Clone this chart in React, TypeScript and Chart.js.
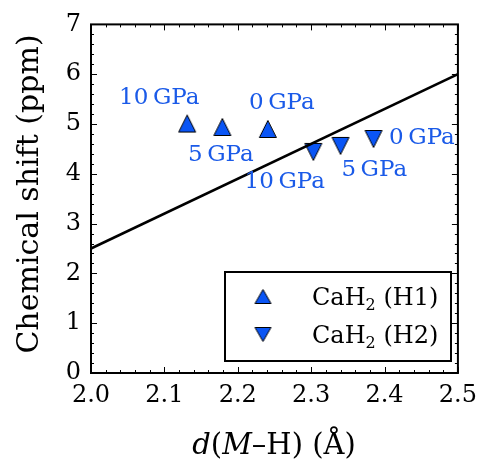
import React, { useEffect, useRef } from "react";
import { Chart, registerables } from "chart.js";

Chart.register(...registerables);

// ---- data ----
const h1Distance = [2.131, 2.179, 2.241];
const h1Shift = [5.01, 4.94, 4.9];
const h2Distance = [2.303, 2.34, 2.385];
const h2Shift = [4.44, 4.56, 4.7];
const fitX = [2.0, 2.5];
const fitY = [2.5, 6.0];
const labelText = ["10\u2009GPa", "0\u2009GPa", "5\u2009GPa", "10\u2009GPa", "5\u2009GPa", "0\u2009GPa"];
const labelX = [2.093, 2.26, 2.177, 2.264, 2.386, 2.451];
const labelY = [5.52, 5.43, 4.37, 3.84, 4.07, 4.71];
const xTicks = [2.0, 2.1, 2.2, 2.3, 2.4, 2.5];
const yTicks = [0, 1, 2, 3, 4, 5, 6, 7];
const legendLabels = ["H1", "H2"];

const BLUE = "#0a55f5";
const TEXT_BLUE = "#1a5ae8";
const FONT = "DejaVu Serif";

function makeTriangle(down: boolean, w = 17, h = 17) {
  const c = document.createElement("canvas");
  c.width = w + 3;
  c.height = h + 3;
  const ctx = c.getContext("2d")!;
  const x0 = 1.5, y0 = 1.5;
  ctx.beginPath();
  if (!down) {
    ctx.moveTo(x0 + w / 2, y0);
    ctx.lineTo(x0 + w, y0 + h);
    ctx.lineTo(x0, y0 + h);
  } else {
    ctx.moveTo(x0, y0);
    ctx.lineTo(x0 + w, y0);
    ctx.lineTo(x0 + w / 2, y0 + h);
  }
  ctx.closePath();
  ctx.fillStyle = BLUE;
  ctx.fill();
  ctx.lineWidth = 1;
  ctx.strokeStyle = "#000";
  ctx.stroke();
  return c;
}

export default function App() {
  const ref = useRef<HTMLCanvasElement | null>(null);

  useEffect(() => {
    document.body.style.margin = "0";
    const up = makeTriangle(false);
    const down = makeTriangle(true);
    const upL = makeTriangle(false, 16, 14);
    const downL = makeTriangle(true, 16, 14);

    const decor = {
      id: "decor",
      afterDatasetsDraw(chart: any) {
        const ctx = chart.ctx as CanvasRenderingContext2D;
        const xs = chart.scales.x;
        const ys = chart.scales.y;
        const { left, right, top, bottom } = chart.chartArea;
        ctx.save();
        // annotations
        ctx.fillStyle = TEXT_BLUE;
        ctx.font = `23px "${FONT}"`;
        ctx.textAlign = "center";
        ctx.textBaseline = "middle";
        labelText.forEach((t, i) => {
          ctx.fillText(t, xs.getPixelForValue(labelX[i]), ys.getPixelForValue(labelY[i]));
        });
        // ticks
        ctx.strokeStyle = "#000";
        ctx.lineWidth = 1;
        ctx.beginPath();
        for (let v = 2.0; v <= 2.5001; v += 0.02) {
          const isMajor = Math.abs(Math.round(v * 10) - v * 10) < 1e-6;
          const len = isMajor ? 6 : 3;
          const px = Math.round(xs.getPixelForValue(v)) + 0.5;
          ctx.moveTo(px, bottom);
          ctx.lineTo(px, bottom - len);
          ctx.moveTo(px, top);
          ctx.lineTo(px, top + len);
        }
        for (let v = 0; v <= 7.0001; v += 0.2) {
          const isMajor = Math.abs(Math.round(v) - v) < 1e-6;
          const len = isMajor ? 6 : 3;
          const py = Math.round(ys.getPixelForValue(v)) + 0.5;
          ctx.moveTo(left, py);
          ctx.lineTo(left + len, py);
          ctx.moveTo(right, py);
          ctx.lineTo(right - len, py);
        }
        ctx.stroke();
        // frame
        ctx.lineWidth = 2;
        ctx.strokeRect(left, top, right - left, bottom - top);

        // legend
        const lx = 225, ly = 272, lw = 226, lh = 89;
        ctx.fillStyle = "#fff";
        ctx.fillRect(lx, ly, lw, lh);
        ctx.lineWidth = 2;
        ctx.strokeStyle = "#000";
        ctx.strokeRect(lx, ly, lw, lh);
        const rows = [296.5, 334.5];
        const icons = [upL, downL];
        rows.forEach((ry, i) => {
          const ic = icons[i];
          ctx.drawImage(ic, 263 - ic.width / 2, ry - ic.height / 2);
          ctx.fillStyle = "#000";
          ctx.textAlign = "left";
          ctx.textBaseline = "alphabetic";
          const base = ry + 8;
          let x = 312;
          ctx.font = `24px "${FONT}"`;
          ctx.fillText("CaH", x, base);
          x += ctx.measureText("CaH").width;
          ctx.font = `16px "${FONT}"`;
          ctx.fillText("2", x, base + 5);
          x += ctx.measureText("2").width;
          ctx.font = `24px "${FONT}"`;
          ctx.fillText(` (${legendLabels[i]})`, x, base);
        });

        // x title
        const segs: [string, boolean][] = [["d", true], ["(", false], ["M", true], ["\u2013H) (\u00c5)", false]];
        const fontFor = (it: boolean) => `${it ? "italic " : ""}29px "${FONT}"`;
        let total = 0;
        segs.forEach(([t, it]) => {
          ctx.font = fontFor(it);
          total += ctx.measureText(t).width;
        });
        let sx = 274 - total / 2;
        ctx.fillStyle = "#000";
        segs.forEach(([t, it]) => {
          ctx.font = fontFor(it);
          ctx.fillText(t, sx, 454);
          sx += ctx.measureText(t).width;
        });

        // y title
        ctx.save();
        ctx.translate(30, 194);
        ctx.rotate(-Math.PI / 2);
        ctx.font = `30px "${FONT}"`;
        ctx.textAlign = "center";
        ctx.textBaseline = "middle";
        ctx.fillText("Chemical shift (ppm)", 0, 0);
        ctx.restore();

        ctx.restore();
      },
    };

    const chart = new Chart(ref.current!, {
      type: "scatter",
      data: {
        datasets: [
          {
            type: "line",
            data: fitX.map((x, i) => ({ x, y: fitY[i] })),
            borderColor: "#000",
            borderWidth: 2.5,
            pointRadius: 0,
            fill: false,
          } as any,
          {
            data: h1Distance.map((x, i) => ({ x, y: h1Shift[i] })),
            pointStyle: up,
            pointRadius: 10,
          },
          {
            data: h2Distance.map((x, i) => ({ x, y: h2Shift[i] })),
            pointStyle: down,
            pointRadius: 10,
          },
        ],
      },
      options: {
        responsive: false,
        animation: false,
        events: [],
        layout: { padding: { left: 0, right: 22, top: 20, bottom: 0 } },
        plugins: { legend: { display: false }, tooltip: { enabled: false } },
        scales: {
          x: {
            type: "linear",
            min: 2.0,
            max: 2.5,
            afterBuildTicks: (s: any) => {
              s.ticks = xTicks.map((v) => ({ value: v }));
            },
            afterFit: (s: any) => {
              s.height = 90;
            },
            grid: { display: false, drawTicks: false },
            border: { display: false },
            ticks: {
              color: "#000",
              font: { family: FONT, size: 24 },
              padding: 8,
              maxRotation: 0,
              callback: (v: any) => Number(v).toFixed(1),
            },
          },
          y: {
            type: "linear",
            min: 0,
            max: 7,
            afterBuildTicks: (s: any) => {
              s.ticks = yTicks.map((v) => ({ value: v }));
            },
            afterFit: (s: any) => {
              s.width = 91;
            },
            grid: { display: false, drawTicks: false },
            border: { display: false },
            ticks: {
              color: "#000",
              font: { family: FONT, size: 24 },
              padding: 10,
              callback: (v: any) => String(v),
            },
          },
        },
      },
      plugins: [decor],
    });
    return () => chart.destroy();
  }, []);

  return (
    <div style={{ position: "absolute", left: 0, top: 0, width: 485, height: 463, background: "#fff" }}>
      <canvas ref={ref} width={485} height={463} />
    </div>
  );
}
